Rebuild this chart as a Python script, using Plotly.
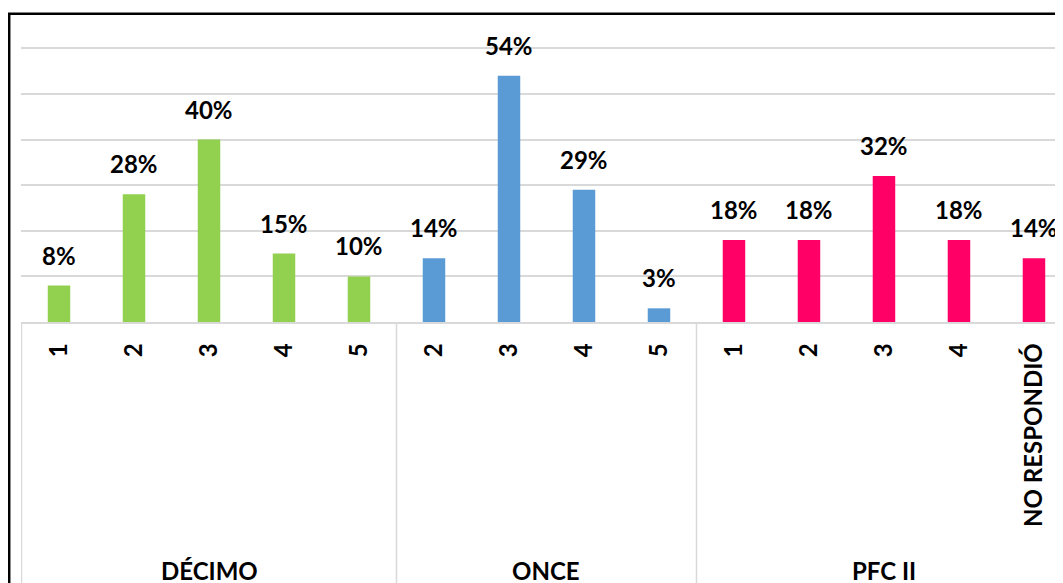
import plotly.graph_objects as go

# ---- data ----
groups = ["DÉCIMO", "ONCE", "PFC II"]
decimo_labels = ["1", "2", "3", "4", "5"]
decimo_values = [8, 28, 40, 15, 10]
once_labels = ["2", "3", "4", "5"]
once_values = [14, 54, 29, 3]
pfc_labels = ["1", "2", "3", "4", "NO RESPONDIÓ"]
pfc_values = [18, 18, 32, 18, 14]
colors = ["#92D050", "#5B9BD5", "#FF0066"]

series = [
    (groups[0], decimo_labels, decimo_values, colors[0]),
    (groups[1], once_labels, once_values, colors[1]),
    (groups[2], pfc_labels, pfc_values, colors[2]),
]

FONT = "Lato"
fig = go.Figure()

all_labels = []
annotations = []
shapes = []
start = 0
for name, labels, values, color in series:
    xs = list(range(start, start + len(labels)))
    fig.add_trace(go.Bar(
        x=xs, y=values, name=name, width=0.30,
        marker=dict(color=color, line=dict(width=0)),
        showlegend=False,
    ))
    for x, v in zip(xs, values):
        annotations.append(dict(
            x=x, y=v, xref="x", yref="y", text=f"<b>{v}%</b>",
            showarrow=False, yanchor="bottom", yshift=14,
            font=dict(family=FONT, size=24, color="#000"),
        ))
    # group label
    annotations.append(dict(
        x=(xs[0] + xs[-1]) / 2, y=-0.812, xref="x", yref="paper",
        text=f"<b>{name}</b>", showarrow=False, yanchor="middle",
        font=dict(family=FONT, size=24, color="#000"),
    ))
    # divider at group's left edge
    shapes.append(dict(
        type="line", xref="x", yref="paper",
        x0=start - 0.5, x1=start - 0.5, y0=0, y1=-1.2,
        line=dict(color="#d9d9d9", width=1.5), layer="below",
    ))
    all_labels.extend(labels)
    start += len(labels)

# outer black border of the chart area (extends beyond the window)
shapes.append(dict(
    type="rect", xref="paper", yref="paper",
    x0=-0.01132, x1=1.2, y0=-1.5, y1=1.0072,
    line=dict(color="#000", width=2.5), fillcolor="rgba(0,0,0,0)",
))

fig.update_layout(
    width=1055, height=575,
    margin=dict(l=13, r=0, t=8, b=261),
    paper_bgcolor="white", plot_bgcolor="white",
    bargap=0.7,
    annotations=annotations,
    shapes=shapes,
    font=dict(family=FONT, color="#000"),
)
fig.update_xaxes(
    range=[-0.5067, 13.387],
    tickmode="array",
    tickvals=list(range(len(all_labels))),
    ticktext=[f"<b>{t}</b>" for t in all_labels],
    tickangle=-90,
    tickfont=dict(family=FONT, size=24, color="#000"),
    ticks="", ticklen=0, ticklabelstandoff=10,
    showline=True, linecolor="#d9d9d9", linewidth=1.5,
    showgrid=False, zeroline=False,
)
fig.update_yaxes(
    range=[0, 67.1], dtick=10,
    showticklabels=False, showgrid=True,
    gridcolor="#d9d9d9", gridwidth=1.5,
    zeroline=False, showline=False,
)

fig.write_html("out.html")
